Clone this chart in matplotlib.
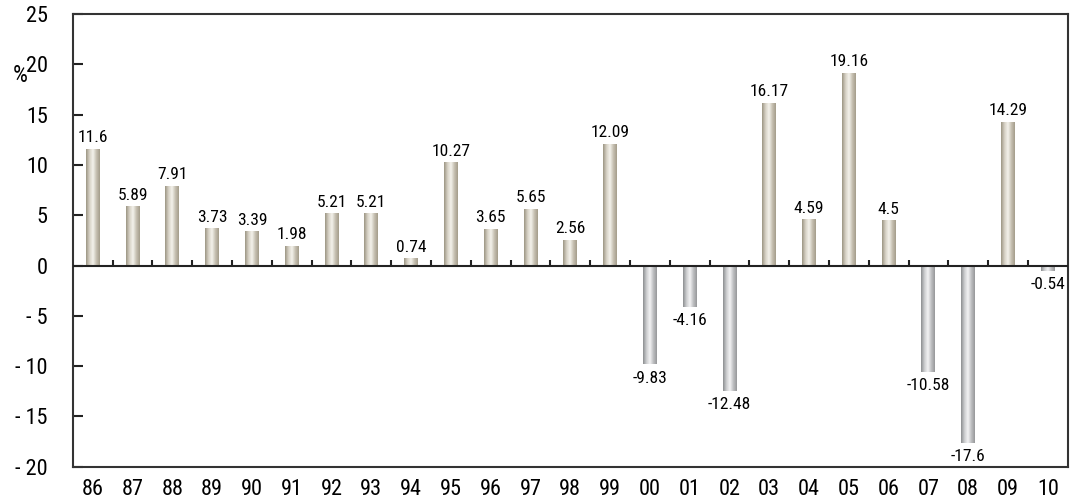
import numpy as np
import matplotlib
matplotlib.use("Agg")
import matplotlib.pyplot as plt
from matplotlib import font_manager
from matplotlib.colors import LinearSegmentedColormap

# pick a condensed sans that is installed
wanted = ['Roboto Condensed', 'Liberation Sans Narrow', 'Fira Sans Condensed', 'PT Sans Narrow',
          'Archivo Narrow', 'Asap Condensed']
have = set(f.name for f in font_manager.fontManager.ttflist)
fams = [f for f in wanted if f in have][:1] + ['DejaVu Sans']
plt.rcParams['font.family'] = fams

years = ['86', '87', '88', '89', '90', '91', '92', '93', '94', '95', '96', '97', '98',
         '99', '00', '01', '02', '03', '04', '05', '06', '07', '08', '09', '10']
values = [11.6, 5.89, 7.91, 3.73, 3.39, 1.98, 5.21, 5.21, 0.74, 10.27, 3.65, 5.65, 2.56,
          12.09, -9.83, -4.16, -12.48, 16.17, 4.59, 19.16, 4.5, -10.58, -17.6, 14.29, -0.54]
labels = ['11.6', '5.89', '7.91', '3.73', '3.39', '1.98', '5.21', '5.21', '0.74', '10.27',
          '3.65', '5.65', '2.56', '12.09', '-9.83', '-4.16', '-12.48', '16.17', '4.59',
          '19.16', '4.5', '-10.58', '-17.6', '14.29', '-0.54']
yticks = [-20, -15, -10, -5, 0, 5, 10, 15, 20, 25]
yticklabels = ['- 20', '- 15', '- 10', '- 5', '0', '5', '10', '15', '20', '25']

# cylinder-like shading across each bar
beige = LinearSegmentedColormap.from_list('beige', ['#9d9684', '#d6d1c5', '#f4f2ec', '#c6c0b1', '#a49d8b'])
grey = LinearSegmentedColormap.from_list('grey', ['#8d8f91', '#cdced0', '#f3f3f4', '#bdbec0', '#97989a'])
profile = np.linspace(0, 1, 64).reshape(1, -1)

fig = plt.figure(figsize=(10.72, 5.03), dpi=100)
ax = fig.add_axes([0.068, 0.072, 0.928, 0.900])

x = np.arange(len(years))
bars = ax.bar(x, values, width=0.35, color='none', edgecolor='none')
for b, v in zip(bars, values):
    x0, w = b.get_x(), b.get_width()
    y0, y1 = sorted([0, v])
    ax.imshow(profile, cmap=beige if v >= 0 else grey, aspect='auto',
              extent=[x0, x0 + w, y0, y1], zorder=2)

for xi, v, lab in zip(x, values, labels):
    if v >= 0:
        ax.text(xi, v + 0.35, lab, ha='center', va='bottom', fontsize=12.5)
    else:
        ax.text(xi, v - 0.6, lab, ha='center', va='top', fontsize=12.5)

# zero line with small upward ticks between categories
ax.axhline(0, color='#222222', lw=1.5, zorder=3)
ax.vlines(x[:-1] + 0.5, 0, 0.6, color='#222222', lw=1.5, zorder=3)

ax.set_xlim(-0.5, len(years) - 0.5)
ax.set_ylim(-20, 25)
ax.set_yticks(yticks)
ax.set_yticklabels(yticklabels, fontsize=16)
ax.set_xticks(x)
ax.set_xticklabels(years, fontsize=16)
ax.tick_params(axis='x', length=0, pad=9)
ax.tick_params(axis='y', direction='in', length=7, width=1.5, pad=18, color='#222222')
for s in ax.spines.values():
    s.set_linewidth(1.5)
    s.set_color('#333333')

fig.text(0.012, 0.85, '%', fontsize=17, ha='left', va='center')

fig.savefig('out.png', dpi=100)
